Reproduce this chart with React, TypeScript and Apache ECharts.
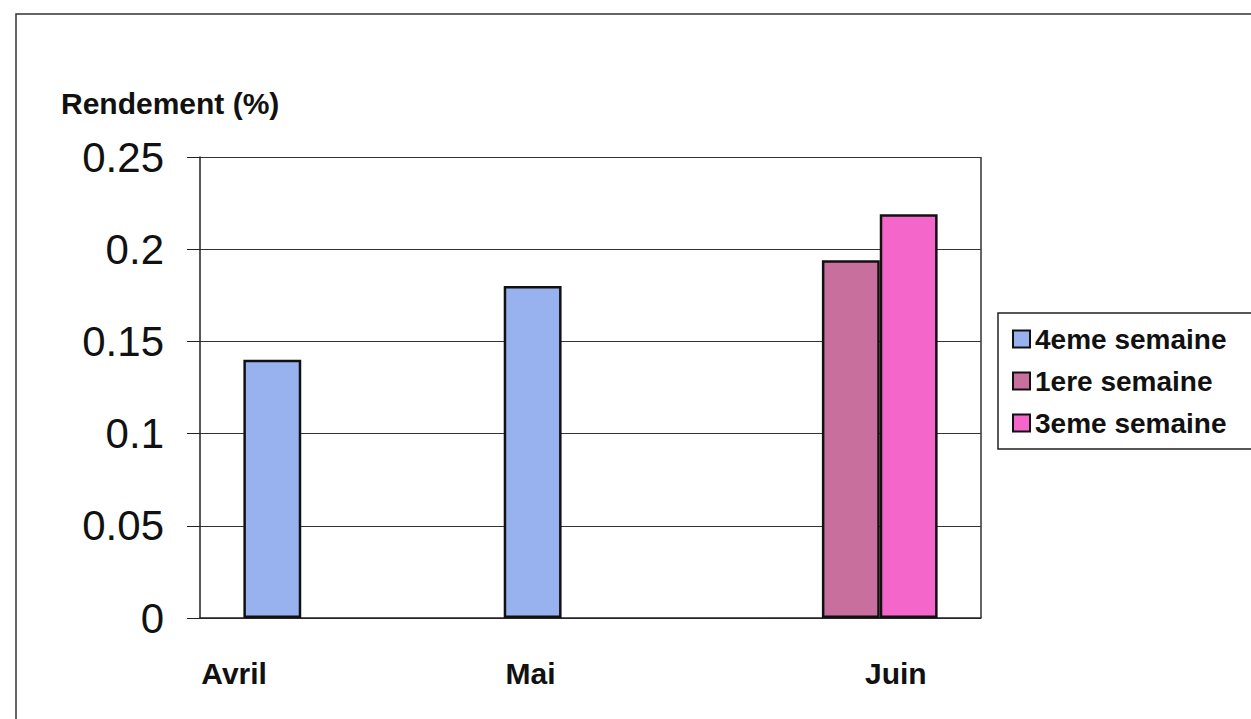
import React, { useEffect, useRef } from "react";
import * as echarts from "echarts";

const months = ["Avril", "Mai", "Juin"];
const seriesNames = ["4eme semaine", "1ere semaine", "3eme semaine"];
const week4 = [0.14, 0.18, null];
const week1 = [null, null, 0.194];
const week3 = [null, null, 0.219];
const yTicks = [0, 0.05, 0.1, 0.15, 0.2, 0.25];
const colors = ["#98b2f0", "#c96f9d", "#f466c9"];

// horizontal nudges of the month labels under the axis
const labelPadding = [
  [0, 192, 0, 0],
  [0, 120, 0, 0],
  [0, 0, 0, 90],
];

export default function App() {
  const ref = useRef<HTMLDivElement>(null);

  useEffect(() => {
    if (!ref.current) return;
    const chart = echarts.init(ref.current, null, { renderer: "svg" });
    const font = "'Liberation Sans', Arial, sans-serif";
    const values = [week4, week1, week3];

    chart.setOption({
      animation: false,
      backgroundColor: "#ffffff",
      textStyle: { fontFamily: font },
      title: {
        text: "Rendement (%)",
        left: 56,
        top: 83,
        textStyle: { fontFamily: font, fontSize: 30, fontWeight: "bold", color: "#111" },
      },
      graphic: [
        {
          type: "rect",
          shape: { x: 16, y: 14, width: 1300, height: 800 },
          style: { fill: "none", stroke: "#333", lineWidth: 1.5 },
          silent: true,
        },
        {
          type: "line",
          shape: { x1: 981, y1: 157, x2: 981, y2: 618 },
          style: { stroke: "#333", lineWidth: 1.5 },
          silent: true,
        },
      ],
      legend: {
        orient: "vertical",
        left: 998,
        top: 313,
        padding: [12, 40, 12, 14],
        itemGap: 14,
        itemWidth: 17,
        itemHeight: 17,
        icon: "rect",
        borderColor: "#222",
        borderWidth: 1.5,
        textStyle: { fontFamily: font, fontSize: 28, fontWeight: "bold", color: "#111" },
        data: seriesNames,
      },
      grid: { left: 200, right: 270, top: 157, bottom: 101 },
      xAxis: {
        type: "category",
        data: months.map((m, i) => ({
          value: m,
          textStyle: { padding: labelPadding[i] },
        })),
        axisTick: { show: false },
        axisLine: { lineStyle: { color: "#222", width: 1.5 } },
        axisLabel: {
          margin: 40,
          fontFamily: font,
          fontSize: 30,
          fontWeight: "bold",
          color: "#111",
        },
      },
      yAxis: {
        type: "value",
        min: yTicks[0],
        max: yTicks[yTicks.length - 1],
        interval: 0.05,
        axisLine: { show: true, lineStyle: { color: "#222", width: 1.5 } },
        axisTick: { show: true, length: 13, lineStyle: { color: "#222" } },
        axisLabel: {
          margin: 36,
          fontFamily: font,
          fontSize: 42,
          color: "#111",
          formatter: (v: number) => String(Number(v.toFixed(2))),
        },
        splitLine: { show: true, lineStyle: { color: "#333", width: 1.2 } },
      },
      series: seriesNames.map((name, i) => ({
        name,
        type: "bar",
        data: values[i],
        barGap: "0%",
        barCategoryGap: "33.33%",
        itemStyle: { color: colors[i], borderColor: "#111", borderWidth: 2.5 },
      })),
    });

    return () => chart.dispose();
  }, []);

  return (
    <div
      ref={ref}
      style={{ position: "fixed", left: 0, top: 0, width: 1251, height: 719 }}
    />
  );
}
